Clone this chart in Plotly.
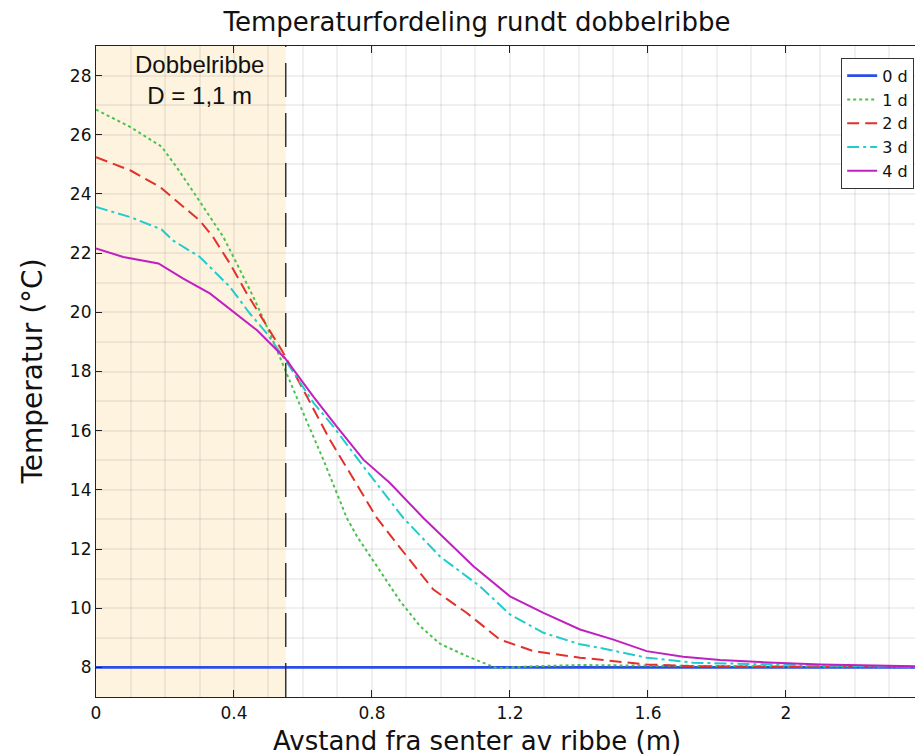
import plotly.graph_objects as go

# Temperature profiles (°C) vs distance from rib centre (m), one per day
x_0d = [0.0, 2.374]
t_0d = [8.0, 8.0]

x_1d = [0.0, 0.10, 0.19, 0.234, 0.292, 0.369, 0.408, 0.456, 0.504, 0.548, 0.601, 0.659,
        0.727, 0.757, 0.823, 0.881, 0.939, 0.997, 1.075, 1.162, 1.268, 1.403, 1.6, 1.8,
        2.0, 2.2, 2.374]
t_1d = [26.85, 26.26, 25.6, 24.9, 23.9, 22.55, 21.65, 20.52, 19.29, 18.05, 16.59, 15.02,
        13.05, 12.42, 11.25, 10.25, 9.4, 8.8, 8.38, 7.97, 8.04, 8.08, 8.06, 8.04,
        8.03, 8.02, 8.02]

x_2d = [0.0, 0.099, 0.186, 0.243, 0.301, 0.339, 0.388, 0.437, 0.485, 0.538, 0.601, 0.678,
        0.736, 0.814, 0.881, 0.978, 1.075, 1.171, 1.268, 1.403, 1.596, 1.731, 1.9, 2.1, 2.374]
t_2d = [25.24, 24.8, 24.23, 23.68, 23.1, 22.55, 21.65, 20.64, 19.74, 18.73, 17.38, 15.69,
        14.57, 13.05, 12.05, 10.63, 9.84, 8.94, 8.55, 8.33, 8.1, 8.04, 8.03, 8.02, 8.01]

x_3d = [0.0, 0.099, 0.19, 0.223, 0.301, 0.388, 0.446, 0.495, 0.548, 0.63, 0.688, 0.775,
        0.891, 0.997, 1.113, 1.2, 1.297, 1.403, 1.461, 1.596, 1.731, 1.925, 2.1, 2.374]
t_3d = [23.56, 23.22, 22.8, 22.43, 21.87, 20.86, 19.96, 19.29, 18.4, 16.95, 16.14, 14.79,
        13.05, 11.75, 10.74, 9.79, 9.17, 8.78, 8.66, 8.33, 8.16, 8.1, 8.06, 8.03]

x_4d = [0.0, 0.079, 0.181, 0.253, 0.33, 0.398, 0.466, 0.548, 0.63, 0.698, 0.775, 0.852,
        0.949, 1.094, 1.2, 1.297, 1.403, 1.5, 1.596, 1.702, 1.809, 1.925, 2.1, 2.374]
t_4d = [22.16, 21.87, 21.65, 21.14, 20.64, 20.02, 19.4, 18.45, 17.15, 16.14, 15.02, 14.23,
        13.05, 11.42, 10.4, 9.84, 9.28, 8.94, 8.55, 8.36, 8.25, 8.18, 8.1, 8.04]

series_names = ["0 d", "1 d", "2 d", "3 d", "4 d"]
x_ticks = [0, 0.4, 0.8, 1.2, 1.6, 2]
x_tick_labels = ["0", "0.4", "0.8", "1.2", "1.6", "2"]
y_ticks = [8, 10, 12, 14, 16, 18, 20, 22, 24, 26, 28]

rib_half_width = 0.55  # D = 1,1 m

styles = [
    dict(color="#2b4ee6", width=2.6, dash="solid"),
    dict(color="#4cc24c", width=2, dash="dot"),
    dict(color="#e0322a", width=2, dash="12px,6px"),
    dict(color="#20cccc", width=2, dash="12px,4px,3px,4px"),
    dict(color="#c020c0", width=2, dash="solid"),
]

xs = [x_0d, x_1d, x_2d, x_3d, x_4d]
ts = [t_0d, t_1d, t_2d, t_3d, t_4d]

fig = go.Figure()
for name, xv, tv, st in zip(series_names, xs, ts, styles):
    fig.add_trace(go.Scatter(x=xv, y=tv, mode="lines", name=name, line=st))

# Shaded rib region and its boundary
fig.add_shape(type="rect", xref="x", yref="paper", x0=0, x1=rib_half_width, y0=0, y1=1,
              fillcolor="#fdf3df", line=dict(width=0), layer="below")
fig.add_shape(type="line", xref="x", yref="paper", x0=rib_half_width, x1=rib_half_width,
              y0=0, y1=1, line=dict(color="#333333", width=1.5, dash="34px,16px"))

fig.add_annotation(x=0.3, y=27.85, xref="x", yref="y", text="Dobbelribbe<br>D = 1,1 m",
                   showarrow=False, font=dict(family="Liberation Sans", size=24, color="#111111"),
                   align="center")

# Axis titles
fig.add_annotation(x=(477 - 96) / 819, y=-44 / 651, xref="paper", yref="paper",
                   text="Avstand fra senter av ribbe (m)", showarrow=False,
                   yanchor="middle", xanchor="center",
                   font=dict(family="DejaVu Sans", size=26, color="#111111"))
fig.add_annotation(x=(32 - 96) / 819, y=0.5, xref="paper", yref="paper",
                   text="Temperatur (°C)", showarrow=False, textangle=-90,
                   yanchor="middle", xanchor="center",
                   font=dict(family="DejaVu Sans", size=28, color="#111111"))

grid = "rgba(0,0,0,0.06)"
fig.update_layout(
    width=915, height=756,
    margin=dict(l=96, r=0, t=46, b=59),
    paper_bgcolor="white", plot_bgcolor="white",
    title=dict(text="Temperaturfordeling rundt dobbelribbe", x=477 / 915, xanchor="center",
               y=1 - 22 / 756, yanchor="middle",
               font=dict(family="DejaVu Sans", size=26, color="#111111")),
    font=dict(family="DejaVu Sans", size=16, color="#111111"),
    showlegend=True,
    legend=dict(x=0.999, y=0.982, xanchor="right", yanchor="top", bgcolor="white",
                bordercolor="#333333", borderwidth=1, itemwidth=30,
                font=dict(family="DejaVu Sans", size=16, color="#111111"),
                tracegroupgap=0),
    xaxis=dict(range=[0, 2.374], tickvals=x_ticks, ticktext=x_tick_labels,
               ticks="inside", ticklen=7, tickcolor="#222222", showline=True,
               linecolor="#222222", linewidth=1.2, mirror="ticks", zeroline=False,
               showgrid=False,
               minor=dict(dtick=0.1, tick0=0, showgrid=True, gridcolor=grid, gridwidth=1.6),
               tickfont=dict(family="DejaVu Sans", size=17)),
    yaxis=dict(range=[7, 29], tickvals=y_ticks, ticks="inside", ticklen=6,
               tickcolor="#222222", showline=True, linecolor="#222222", linewidth=1.2,
               zeroline=False, showgrid=False,
               minor=dict(dtick=1, tick0=7, showgrid=True, gridcolor=grid, gridwidth=1.6),
               tickfont=dict(family="DejaVu Sans", size=17)),
)

fig.write_html("out.html")
